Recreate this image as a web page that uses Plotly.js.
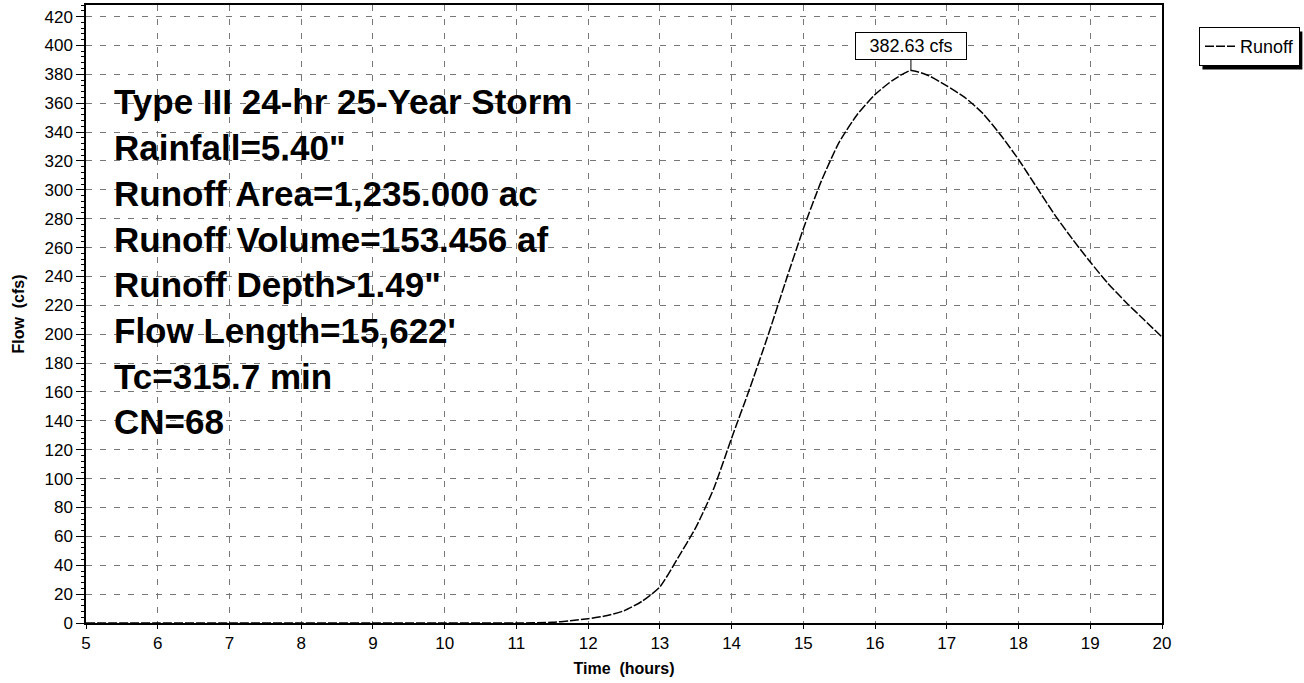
<!DOCTYPE html>
<html>
<head>
<meta charset="utf-8">
<script src="https://cdn.plot.ly/plotly-3.0.1.min.js"></script>
<style>html,body{margin:0;padding:0;background:#fff;}#chart{width:1304px;height:683px;}</style>
</head>
<body>
<div id="chart"></div>
<script>
const timeHours = [5, 6, 7, 8, 9, 10, 11, 11.5, 11.75, 12, 12.25, 12.5, 12.75, 13, 13.25, 13.5, 13.75, 14, 14.25, 14.5, 14.75, 15, 15.25, 15.5, 15.75, 16, 16.25, 16.5, 16.75, 17, 17.25, 17.5, 17.75, 18, 18.25, 18.5, 18.75, 19, 19.25, 19.5, 19.75, 20];
const runoffCfs = [0, 0, 0, 0, 0, 0, 0, 0.5, 1.5, 3, 5, 8.5, 15, 25, 45, 66, 93, 128, 162, 198, 236, 273, 306, 333, 352, 366, 376, 382.63, 379, 372, 364, 353, 338, 321, 302, 283, 266, 250, 235, 222, 210, 198];
const peakTime = 16.5;
const peakFlow = 382.63;
const peakLabel = "382.63 cfs";
const seriesName = "Runoff";
const infoLines = [
  "Type III 24-hr 25-Year Storm",
  "Rainfall=5.40\"",
  "Runoff Area=1,235.000 ac",
  "Runoff Volume=153.456 af",
  "Runoff Depth>1.49\"",
  "Flow Length=15,622'",
  "Tc=315.7 min",
  "CN=68"
];
const xTitle = "Time  (hours)";
const yTitle = "Flow  (cfs)";

const FONT = "Liberation Sans, Arial, Helvetica, sans-serif";
const plotLeft = 86, plotRight = 1163, plotW = plotRight - plotLeft;
const plotTop = 5, plotBottom = 623, plotH = plotBottom - plotTop;
const px = v => (v - plotLeft) / plotW;
const py = v => (plotBottom - v) / plotH;

const annotations = infoLines.map((t, i) => ({
  xref: 'paper', yref: 'paper',
  x: px(112), xanchor: 'left',
  y: py(102 + 45.7 * i), yanchor: 'middle',
  text: '<b>' + t.replace(/>/g, '&gt;') + '</b>',
  showarrow: false,
  font: {family: FONT, size: 35, color: '#000'}
}));
annotations.push({
  x: peakTime, y: peakFlow, xref: 'x', yref: 'y',
  text: peakLabel,
  showarrow: true, arrowhead: 0, arrowwidth: 1, arrowcolor: '#000',
  ax: 0, ay: -25,
  bgcolor: '#fff', bordercolor: '#000', borderwidth: 1, borderpad: 3,
  width: 104, height: 20,
  font: {family: FONT, size: 18, color: '#000'}
});

const trace = {
  x: timeHours, y: runoffCfs, name: seriesName,
  type: 'scatter', mode: 'lines',
  line: {color: '#000', width: 1.5, shape: 'spline', smoothing: 0.6, dash: '9px,2px'}
};

const layout = {
  width: 1304, height: 683,
  margin: {l: plotLeft, r: 1304 - plotRight, t: plotTop, b: 683 - plotBottom, pad: 0},
  paper_bgcolor: '#fff', plot_bgcolor: '#fff',
  font: {family: FONT, color: '#000'},
  showlegend: true,
  legend: {
    x: px(1199), xanchor: 'left', y: py(27), yanchor: 'top',
    bgcolor: '#fff', bordercolor: '#000', borderwidth: 1,
    font: {family: FONT, size: 18, color: '#000'},
    itemwidth: 30
  },
  xaxis: {
    range: [5, 20], dtick: 1, tick0: 5,
    showline: true, linecolor: '#000', linewidth: 2, mirror: true,
    ticks: 'outside', ticklen: 4, tickcolor: '#000',
    tickfont: {family: FONT, size: 17, color: '#000'},
    showgrid: true, gridcolor: '#777', griddash: '6px,8px', gridwidth: 1,
    zeroline: false,
    title: {text: '<b>' + xTitle + '</b>', font: {family: FONT, size: 16, color: '#000'}, standoff: 10}
  },
  yaxis: {
    range: [0, 428], dtick: 20, tick0: 0,
    showline: true, linecolor: '#000', linewidth: 1.5, mirror: true,
    ticks: 'outside', ticklen: 8, tickcolor: '#000',
    minor: {dtick: 4, ticks: 'outside', ticklen: 3, tickcolor: '#000', showgrid: false},
    tickfont: {family: FONT, size: 17, color: '#000'},
    showgrid: true, gridcolor: '#777', griddash: '6px,8px', gridwidth: 1,
    zeroline: false,
    title: {text: '<b>' + yTitle + '</b>', font: {family: FONT, size: 16, color: '#000'}, standoff: 16}
  },
  annotations: annotations
};

Plotly.newPlot('chart', [trace], layout, {displayModeBar: false, responsive: false}).then(gd => {
  // drop shadow behind the legend box, sized from the drawn legend
  const bg = gd.querySelector('.legend .bg');
  if (!bg) return;
  const bb = bg.getBoundingClientRect();
  const off = 4;
  Plotly.relayout(gd, {shapes: [{
    type: 'rect', xref: 'paper', yref: 'paper', layer: 'below',
    x0: px(bb.left + off), x1: px(bb.right + off),
    y0: py(bb.bottom + off), y1: py(bb.top + off),
    fillcolor: '#000', line: {width: 0}
  }]});
});
</script>
</body>
</html>
